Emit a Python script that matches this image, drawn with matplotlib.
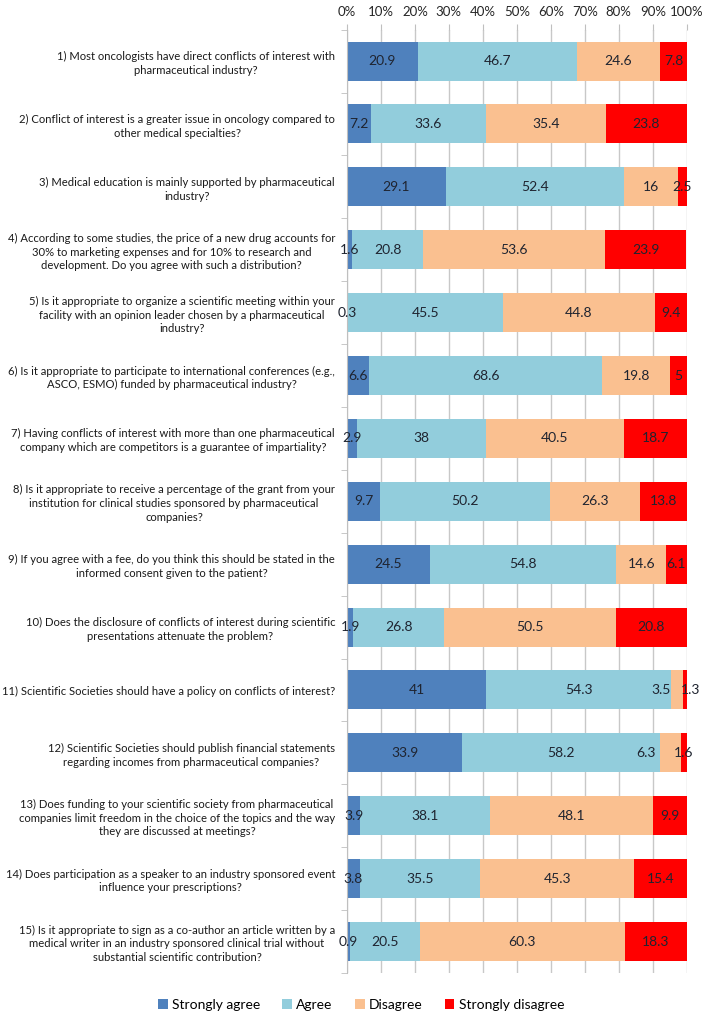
import matplotlib
matplotlib.use("Agg")
import matplotlib.pyplot as plt
import numpy as np

plt.rcParams['font.family'] = ['Lato', 'DejaVu Sans']

# Data
questions = [
    "1) Most oncologists have direct conflicts of interest with\npharmaceutical industry?",
    "2) Conflict of interest is a greater issue in oncology compared to\nother medical specialties?",
    "3) Medical education is mainly supported by pharmaceutical\nindustry?",
    "4) According to some studies, the price of a new drug accounts for\n30% to marketing expenses and for 10% to research and\ndevelopment. Do you agree with such a distribution?",
    "5) Is it appropriate to organize a scientific meeting within your\nfacility with an opinion leader chosen by a pharmaceutical\nindustry?",
    "6) Is it appropriate to participate to international conferences (e.g.,\nASCO, ESMO) funded by pharmaceutical industry?",
    "7) Having conflicts of interest with more than one pharmaceutical\ncompany which are competitors is a guarantee of impartiality?",
    "8) Is it appropriate to receive a percentage of the grant from your\ninstitution for clinical studies sponsored by pharmaceutical\ncompanies?",
    "9) If you agree with a fee, do you think this should be stated in the\ninformed consent given to the patient?",
    "10) Does the disclosure of conflicts of interest during scientific\npresentations attenuate the problem?",
    "11) Scientific Societies should have a policy on conflicts of interest?",
    "12) Scientific Societies should publish financial statements\nregarding incomes from pharmaceutical companies?",
    "13) Does funding to your scientific society from pharmaceutical\ncompanies limit freedom in the choice of the topics and the way\nthey are discussed at meetings?",
    "14) Does participation as a speaker to an industry sponsored event\ninfluence your prescriptions?",
    "15) Is it appropriate to sign as a co-author an article written by a\nmedical writer in an industry sponsored clinical trial without\nsubstantial scientific contribution?",
]

strongly_agree = [20.9, 7.2, 29.1, 1.6, 0.3, 6.6, 2.9, 9.7, 24.5, 1.9, 41, 33.9, 3.9, 3.8, 0.9]
agree = [46.7, 33.6, 52.4, 20.8, 45.5, 68.6, 38, 50.2, 54.8, 26.8, 54.3, 58.2, 38.1, 35.5, 20.5]
disagree = [24.6, 35.4, 16, 53.6, 44.8, 19.8, 40.5, 26.3, 14.6, 50.5, 3.5, 6.3, 48.1, 45.3, 60.3]
strongly_disagree = [7.8, 23.8, 2.5, 23.9, 9.4, 5, 18.7, 13.8, 6.1, 20.8, 1.3, 1.6, 9.9, 15.4, 18.3]

series_names = ["Strongly agree", "Agree", "Disagree", "Strongly disagree"]
colors = ["#4F81BD", "#92CDDC", "#FAC090", "#FF0000"]
xticks = list(range(0, 101, 10))

# label nudges (series index, row) -> horizontal offset in points, as Excel placed them
nudges = {(2, 10): -11, (3, 10): 4.5, (2, 11): -18}

fig = plt.figure(figsize=(7.08, 10.21), dpi=100)
ax = fig.add_axes([0.490, 0.047, 0.480, 0.924])

y = np.arange(len(questions))
left = np.zeros(len(questions))
for si, (name, vals, col) in enumerate(zip(series_names,
                                          [strongly_agree, agree, disagree, strongly_disagree],
                                          colors)):
    vals = np.array(vals, dtype=float)
    bars = ax.barh(y, vals, left=left, height=0.62, color=col, label=name, zorder=2)
    anns = ax.bar_label(bars, labels=['%g' % v for v in vals], label_type='center',
                        fontsize=10, color='#1f2430')
    for row, a in enumerate(anns):
        if (si, row) in nudges:
            a.xyann = (nudges[(si, row)], a.xyann[1])
    left += vals

ax.set_xlim(0, 100)
ax.set_ylim(len(questions) - 0.5, -0.5)

ax.xaxis.tick_top()
ax.set_xticks(xticks)
ax.set_xticklabels([f"{t}%" for t in xticks], fontsize=9.5, color='#262626')
ax.tick_params(axis='x', length=4, color='#BFBFBF', pad=4)
ax.grid(axis='x', color='#C8C8C8', linewidth=1, zorder=0)
ax.set_axisbelow(True)

ax.set_yticks(y)
ax.set_yticklabels(questions, fontsize=8.1, color='#1a1a1a',
                   multialignment='center', linespacing=1.3)
ax.tick_params(axis='y', which='major', length=0, pad=8.5)
ax.set_yticks(np.arange(-0.5, len(questions), 1), minor=True)
ax.tick_params(axis='y', which='minor', length=4, color='#BFBFBF')

for s in ['top', 'right', 'bottom']:
    ax.spines[s].set_visible(False)
ax.spines['left'].set_color('#BFBFBF')

fig.legend(loc='center', bbox_to_anchor=(0.51, 0.0157), ncol=4, frameon=False,
           fontsize=10, handlelength=0.7, handleheight=0.7, handletextpad=0.3,
           columnspacing=1.6)

plt.savefig('out.png', dpi=100)
